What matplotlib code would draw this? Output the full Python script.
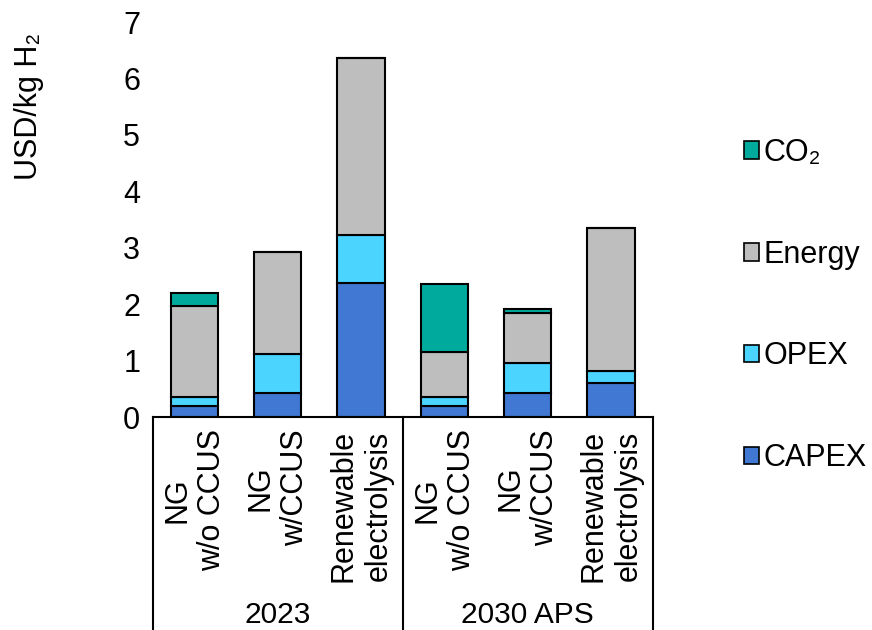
import matplotlib.pyplot as plt
from matplotlib.patches import Patch
import numpy as np

plt.rcParams['font.family'] = ['Liberation Sans', 'DejaVu Sans']
plt.rcParams['font.size'] = 22

# data (USD/kg H2)
categories = ["NG\nw/o CCUS", "NG\nw/CCUS", "Renewable\nelectrolysis",
              "NG\nw/o CCUS", "NG\nw/CCUS", "Renewable\nelectrolysis"]
groups = ["2023", "2030 APS"]
capex = [0.20, 0.43, 2.37, 0.20, 0.43, 0.60]
opex = [0.15, 0.69, 0.86, 0.15, 0.53, 0.22]
energy = [1.62, 1.80, 3.13, 0.80, 0.88, 2.53]
co2 = [0.23, 0.00, 0.00, 1.20, 0.07, 0.00]

series = [("CAPEX", capex, "#4178D3"),
          ("OPEX", opex, "#4AD4FE"),
          ("Energy", energy, "#BEBEBE"),
          ("CO\u2082", co2, "#00AB9E")]

fig = plt.figure(figsize=(8.72, 6.3), dpi=100)
ax = fig.add_axes([0.1751, 0.338, 0.5734, 0.627])

x = np.arange(len(categories))
bottom = np.zeros(len(categories))
for name, vals, col in series:
    vals = np.array(vals)
    ax.bar(x, vals, 0.57, bottom=bottom, color=col, edgecolor="black",
           linewidth=1.5, zorder=2)
    bottom += vals

ax.set_xlim(-0.5, 5.5)
ax.set_ylim(0, 7)
ax.set_yticks(range(8))
ax.tick_params(axis="y", length=0, pad=9, labelsize=22)
ax.set_xticks([])
for s in ["top", "right", "left"]:
    ax.spines[s].set_visible(False)
ax.spines["bottom"].set_linewidth(1.5)

# category labels under the axis
for i, lab in enumerate(categories):
    ax.text(i, -0.22, lab, rotation=90, ha="center", va="top",
            multialignment="center", fontsize=22)

# group boxes
for xb in [-0.5, 2.5, 5.5]:
    ax.plot([xb, xb], [0, -4.5], color="black", lw=1.5, clip_on=False)
for g, lab in enumerate(groups):
    ax.text(g * 3 + 1, -3.5, lab, ha="center", va="center", fontsize=21.5)

fig.text(0.033, 1 - 106 / 630, "USD/kg H\u2082", rotation=90,
         ha="center", va="center", fontsize=22)

handles = [Patch(facecolor=c, edgecolor="black", linewidth=1.2, label=n)
           for n, v, c in series[::-1]]
fig.legend(handles=handles, loc="center left", bbox_to_anchor=(0.8215, 0.515),
           frameon=False, handlelength=0.5, handleheight=0.5,
           handletextpad=0.15, labelspacing=2.35, fontsize=22)

fig.savefig("out.png", dpi=100)
